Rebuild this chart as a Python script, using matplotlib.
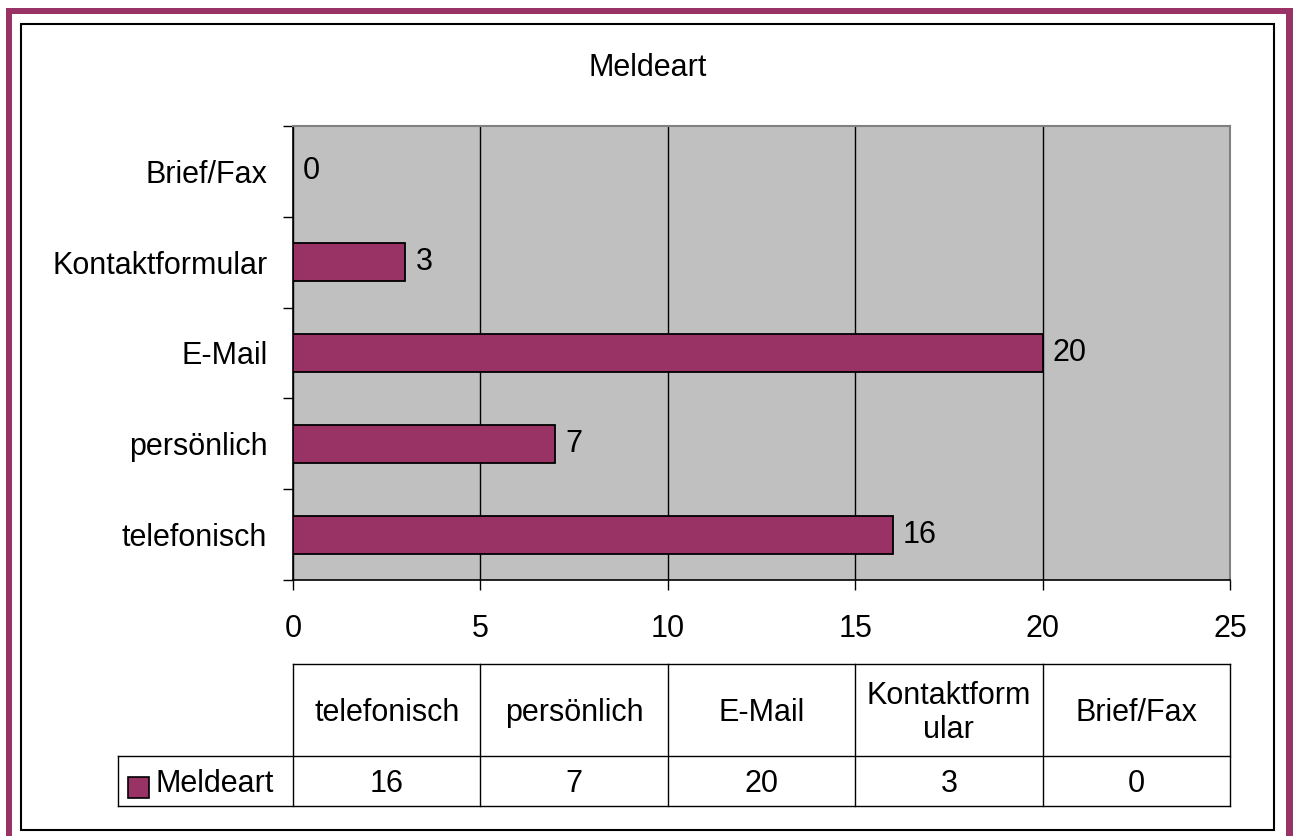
import matplotlib
matplotlib.use("Agg")
import matplotlib.pyplot as plt
from matplotlib.patches import Rectangle
from matplotlib.lines import Line2D

plt.rcParams["font.family"] = ["Liberation Sans", "DejaVu Sans"]

categories = ["telefonisch", "persönlich", "E-Mail", "Kontaktformular", "Brief/Fax"]
table_headers = ["telefonisch", "persönlich", "E-Mail", "Kontaktform\nular", "Brief/Fax"]
values = [16, 7, 20, 3, 0]
series_name = "Meldeart"
x_ticks = [0, 5, 10, 15, 20, 25]

BAR = "#993366"
W, H = 1293, 836
FS = 22

fig = plt.figure(figsize=(W / 100, H / 100), dpi=100)

# overlay in pixel coordinates for frame and table
over = fig.add_axes([0, 0, 1, 1], zorder=0)
over.set_xlim(0, W)
over.set_ylim(H, 0)
over.axis("off")

# purple outer frame (top, left, right)
over.add_patch(Rectangle((6, 8), W - 13, 6, color=BAR, lw=0))
over.add_patch(Rectangle((6, 8), 6, H, color=BAR, lw=0))
over.add_patch(Rectangle((1286, 8), 7, H, color=BAR, lw=0))
# thin black chart border
over.add_patch(Rectangle((21, 24), 1274 - 21, 830 - 24, fill=False, ec="black", lw=1.5))

over.text(648, 68, "Meldeart", ha="center", va="center", fontsize=FS)

# plot area
left, right, top, bottom = 293, 1230, 126, 580
ax = fig.add_axes([left / W, 1 - bottom / H, (right - left) / W, (bottom - top) / H], zorder=1)
ax.set_facecolor("#C0C0C0")
pos = range(len(categories))
ax.barh(pos, values, height=0.42, color=BAR, edgecolor="black", linewidth=1.3, zorder=3)
for p, v in zip(pos, values):
    ax.text(v + 0.27, p, str(v), va="center", ha="left", fontsize=FS, zorder=4)

ax.set_xlim(0, 25)
ax.set_ylim(-0.5, len(categories) - 0.5)
ax.set_xticks(x_ticks)
ax.set_xticklabels([str(t) for t in x_ticks])
ax.set_yticks(list(pos))
ax.set_yticklabels(categories)
ax.set_yticks([p - 0.5 for p in range(len(categories) + 1)], minor=True)
ax.tick_params(axis="y", which="major", length=0, labelsize=FS, pad=18.5)
ax.tick_params(axis="y", which="minor", length=7, width=1, direction="out", color="black")
ax.tick_params(axis="x", length=7, width=1, direction="out", labelsize=FS, pad=17.5)
ax.grid(axis="x", color="black", linewidth=1, zorder=1)
ax.set_axisbelow(True)
for side in ["top", "right"]:
    ax.spines[side].set_color("#808080")
    ax.spines[side].set_linewidth(1.5)
for side in ["left", "bottom"]:
    ax.spines[side].set_color("black")
    ax.spines[side].set_linewidth(1.2)

# data table
t_top, t_mid, t_bot = 664, 756, 806
leg_left = 118
col_w = (right - left) / len(categories)
col_x = [left + i * col_w for i in range(len(categories) + 1)]
lw = 1.0
over.add_line(Line2D([left, right], [t_top, t_top], color="black", lw=lw))
over.add_line(Line2D([leg_left, right], [t_mid, t_mid], color="black", lw=lw))
over.add_line(Line2D([leg_left, right], [t_bot, t_bot], color="black", lw=lw))
over.add_line(Line2D([leg_left, leg_left], [t_mid, t_bot], color="black", lw=lw))
for x in col_x:
    over.add_line(Line2D([x, x], [t_top, t_bot], color="black", lw=lw))
for i, (h, v) in enumerate(zip(table_headers, values)):
    cx = (col_x[i] + col_x[i + 1]) / 2
    over.text(cx, (t_top + t_mid) / 2 + 3, h, ha="center", va="center", fontsize=FS, linespacing=1.15)
    over.text(cx, (t_mid + t_bot) / 2 + 3, str(v), ha="center", va="center", fontsize=FS)
over.add_patch(Rectangle((128, 777), 21, 21, facecolor=BAR, edgecolor="black", lw=1.2))
over.text(156, (t_mid + t_bot) / 2 + 3, series_name, ha="left", va="center", fontsize=FS)

fig.savefig("out.png", dpi=100)
